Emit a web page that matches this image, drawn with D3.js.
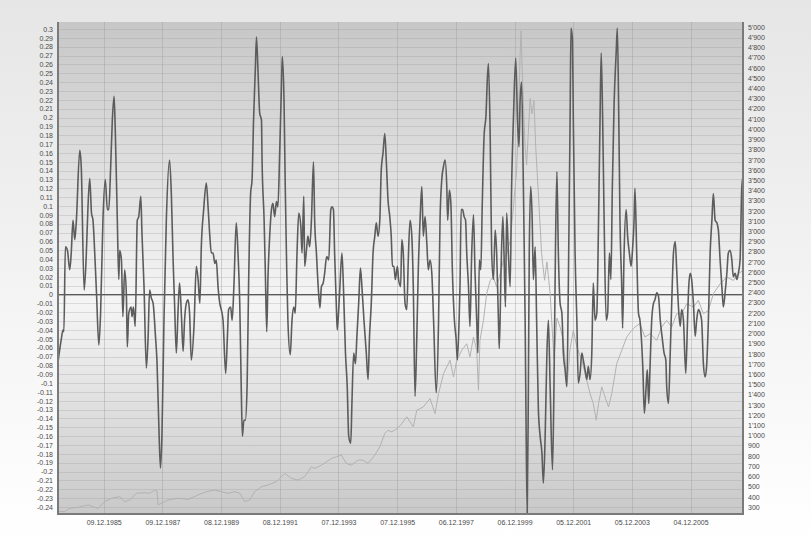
<!DOCTYPE html>
<html>
<head>
<meta charset="utf-8">
<script src="https://cdn.jsdelivr.net/npm/d3@7"></script>
<style>
  body { margin: 0; background: #fff; }
  svg { display: block; font-family: "Liberation Sans", Arial, sans-serif; }
</style>
</head>
<body>
<svg id="chart" width="811" height="542"></svg>
<script>
// Oscillator (dark line, left axis) - decimal years and values
const oscYears = [
  1984.38, 1984.49, 1984.55, 1984.58, 1984.63, 1984.70, 1984.78, 1984.83, 1984.89, 1984.95,
  1985.00, 1985.12, 1985.17, 1985.27, 1985.34, 1985.40, 1985.46, 1985.52, 1985.57, 1985.63,
  1985.69, 1985.77, 1985.83, 1985.91, 1985.99, 1986.06, 1986.11, 1986.17, 1986.23, 1986.29,
  1986.33, 1986.40, 1986.45, 1986.48, 1986.54, 1986.59, 1986.65, 1986.71, 1986.74, 1986.79,
  1986.87, 1986.90, 1986.95, 1987.01, 1987.08, 1987.13, 1987.20, 1987.24, 1987.31, 1987.39,
  1987.45, 1987.50, 1987.56, 1987.62, 1987.70, 1987.75, 1987.81, 1987.87, 1987.92, 1987.99,
  1988.07, 1988.18, 1988.24, 1988.30, 1988.35, 1988.41, 1988.47, 1988.52, 1988.58, 1988.64,
  1988.69, 1988.75, 1988.81, 1988.86, 1988.92, 1989.01, 1989.09, 1989.15, 1989.21, 1989.26,
  1989.34, 1989.43, 1989.49, 1989.55, 1989.60, 1989.66, 1989.72, 1989.77, 1989.83, 1989.89,
  1989.94, 1990.00, 1990.09, 1990.15, 1990.19, 1990.26, 1990.31, 1990.37, 1990.45, 1990.51,
  1990.57, 1990.62, 1990.66, 1990.71, 1990.76, 1990.82, 1990.87, 1990.94, 1990.99, 1991.04,
  1991.10, 1991.14, 1991.19, 1991.25, 1991.31, 1991.33, 1991.40, 1991.44, 1991.49, 1991.53,
  1991.59, 1991.65, 1991.70, 1991.76, 1991.82, 1991.87, 1991.93, 1991.99, 1992.02, 1992.08,
  1992.12, 1992.17, 1992.21, 1992.29, 1992.35, 1992.41, 1992.46, 1992.52, 1992.58, 1992.65,
  1992.69, 1992.75, 1992.78, 1992.84, 1992.89, 1992.95, 1993.01, 1993.08, 1993.12, 1993.18,
  1993.24, 1993.30, 1993.35, 1993.41, 1993.46, 1993.53, 1993.60, 1993.67, 1993.71, 1993.76,
  1993.80, 1993.86, 1993.89, 1993.94, 1993.98, 1994.05, 1994.10, 1994.17, 1994.23, 1994.28,
  1994.35, 1994.39, 1994.45, 1994.51, 1994.56, 1994.62, 1994.68, 1994.73, 1994.80, 1994.88,
  1994.94, 1994.99, 1995.05, 1995.11, 1995.17, 1995.22, 1995.28, 1995.34, 1995.39, 1995.45,
  1995.51, 1995.56, 1995.62, 1995.68, 1995.73, 1995.77, 1995.82, 1995.87, 1995.94, 1995.98,
  1996.05, 1996.09, 1996.14, 1996.20, 1996.26, 1996.31, 1996.37, 1996.43, 1996.48, 1996.54,
  1996.60, 1996.65, 1996.71, 1996.77, 1996.82, 1996.88, 1996.94, 1996.99, 1997.05, 1997.11,
  1997.17, 1997.26, 1997.34, 1997.39, 1997.45, 1997.51, 1997.56, 1997.62, 1997.65, 1997.71,
  1997.76, 1997.81, 1997.88, 1997.94, 1997.98, 1998.04, 1998.07, 1998.11, 1998.16, 1998.21,
  1998.26, 1998.30, 1998.36, 1998.41, 1998.47, 1998.53, 1998.58, 1998.64, 1998.68, 1998.73,
  1998.78, 1998.83, 1998.89, 1998.96, 1999.00, 1999.04, 1999.10, 1999.15, 1999.21, 1999.27,
  1999.32, 1999.38, 1999.41, 1999.47, 1999.53, 1999.57, 1999.62, 1999.66, 1999.72, 1999.78,
  1999.83, 1999.89, 1999.97, 2000.03, 2000.08, 2000.12, 2000.17, 2000.23, 2000.29, 2000.32,
  2000.36, 2000.40, 2000.43, 2000.48, 2000.53, 2000.57, 2000.63, 2000.68, 2000.74, 2000.80,
  2000.86, 2000.91, 2000.97, 2001.03, 2001.08, 2001.14, 2001.22, 2001.27, 2001.32, 2001.37,
  2001.42, 2001.48, 2001.54, 2001.59, 2001.65, 2001.71, 2001.76, 2001.82, 2001.85, 2001.90,
  2001.93, 2001.99, 2002.05, 2002.10, 2002.16, 2002.22, 2002.27, 2002.33, 2002.39, 2002.44,
  2002.50, 2002.56, 2002.61, 2002.67, 2002.73, 2002.79, 2002.84, 2002.88, 2002.93, 2002.98,
  2003.05, 2003.10, 2003.16, 2003.21, 2003.26, 2003.32, 2003.39, 2003.43, 2003.48, 2003.52,
  2003.58, 2003.61, 2003.66, 2003.73, 2003.78, 2003.84, 2003.90, 2003.94, 2004.00, 2004.03,
  2004.09, 2004.15, 2004.20, 2004.30, 2004.35, 2004.41, 2004.45, 2004.50, 2004.54, 2004.60,
  2004.66, 2004.71, 2004.77, 2004.83, 2004.89, 2004.95, 2005.02, 2005.08, 2005.11, 2005.17,
  2005.23, 2005.28, 2005.34, 2005.40, 2005.45, 2005.51, 2005.57, 2005.62, 2005.68, 2005.76,
  2005.82, 2005.86, 2005.91, 2005.96, 2006.02, 2006.08, 2006.13, 2006.19, 2006.25, 2006.30,
  2006.36, 2006.42, 2006.47, 2006.53, 2006.59, 2006.65, 2006.70, 2006.76, 2006.82, 2006.87,
  2006.93, 2006.99, 2007.04, 2007.10, 2007.16, 2007.21, 2007.27, 2007.33, 2007.38, 2007.44,
  2007.50, 2007.55, 2007.61, 2007.67, 2007.71
];
const oscValues = [
  -0.076, -0.051, -0.040, -0.042, 0.054, 0.050, 0.028, 0.047, 0.084, 0.062,
  0.081, 0.163, 0.145, 0.005, 0.043, 0.099, 0.131, 0.092, 0.084, 0.047,
  0.002, -0.057, -0.021, 0.084, 0.130, 0.096, 0.096, 0.141, 0.197, 0.224,
  0.186, 0.084, 0.017, 0.050, 0.039, -0.025, 0.028, -0.002, -0.059, -0.021,
  -0.014, -0.025, -0.014, -0.036, 0.084, 0.088, 0.111, 0.069, 0.009, -0.083,
  -0.047, 0.005, -0.004, -0.010, -0.047, -0.074, -0.142, -0.196, -0.160, -0.029,
  0.084, 0.152, 0.114, 0.039, -0.010, -0.066, -0.017, 0.013, -0.021, -0.064,
  -0.029, -0.010, -0.006, -0.021, -0.074, -0.036, 0.032, 0.017, -0.010, 0.054,
  0.096, 0.126, 0.099, 0.066, 0.047, 0.047, 0.035, 0.039, 0.009, -0.010,
  -0.017, -0.029, -0.089, -0.047, -0.017, -0.014, -0.029, 0.009, 0.081, 0.047,
  -0.010, -0.104, -0.160, -0.142, -0.142, -0.104, 0.009, 0.114, 0.130, 0.197,
  0.254, 0.291, 0.254, 0.205, 0.197, 0.152, 0.084, 0.028, -0.042, 0.017,
  0.066, 0.096, 0.103, 0.088, 0.105, 0.099, 0.160, 0.235, 0.269, 0.216,
  0.122, 0.028, -0.029, -0.068, -0.029, -0.014, -0.021, 0.047, 0.092, 0.077,
  0.047, 0.111, 0.032, 0.050, 0.066, 0.054, 0.084, 0.150, 0.084, 0.047,
  0.009, -0.015, 0.009, 0.013, 0.024, 0.043, 0.039, 0.096, 0.099, 0.096,
  0.047, -0.014, -0.040, -0.017, 0.009, 0.047, 0.009, -0.066, -0.104, -0.160,
  -0.168, -0.123, -0.066, -0.078, -0.047, -0.010, 0.030, 0.009, -0.029, -0.066,
  -0.096, -0.047, -0.010, 0.047, 0.066, 0.081, 0.066, 0.084, 0.141, 0.160,
  0.182, 0.152, 0.107, 0.088, 0.066, 0.032, 0.032, 0.017, 0.032, 0.017,
  0.009, 0.062, 0.047, -0.010, -0.017, 0.039, 0.084, 0.066, 0.009, -0.115,
  -0.047, 0.028, 0.084, 0.122, 0.066, 0.088, 0.058, 0.028, 0.039, 0.024,
  -0.029, -0.111, -0.029, 0.084, 0.130, 0.145, 0.152, 0.122, 0.084, 0.118,
  0.103, 0.028, -0.029, -0.051, -0.074, -0.029, 0.009, 0.096, 0.096, 0.088,
  0.084, 0.047, 0.009, -0.036, 0.047, 0.090, 0.028, -0.029, -0.066, 0.039,
  0.028, 0.103, 0.178, 0.205, 0.242, 0.261, 0.178, 0.047, 0.017, 0.073,
  0.047, -0.029, -0.061, 0.028, 0.088, 0.047, -0.014, 0.092, 0.047, 0.009,
  0.122, 0.197, 0.267, 0.197, 0.167, 0.220, 0.240, 0.122, -0.029, -0.142,
  -0.247, -0.104, 0.047, 0.122, 0.084, 0.017, 0.054, -0.029, -0.130, -0.160,
  -0.179, -0.213, -0.160, -0.066, -0.029, -0.104, -0.198, -0.104, 0.047, 0.139,
  0.047, -0.010, -0.021, -0.066, -0.085, -0.104, 0.009, 0.197, 0.301, 0.288,
  0.197, 0.047, -0.029, -0.100, -0.089, -0.066, -0.074, -0.085, -0.096, -0.081,
  -0.096, -0.066, 0.013, -0.029, -0.021, 0.084, 0.197, 0.273, 0.197, 0.084,
  -0.029, -0.021, 0.047, 0.017, 0.122, 0.216, 0.273, 0.301, 0.197, 0.084,
  0.009, -0.038, 0.047, 0.096, 0.066, 0.047, 0.032, 0.047, 0.084, 0.120,
  0.047, -0.021, -0.029, -0.085, -0.134, -0.104, -0.085, -0.123, -0.085, -0.029,
  -0.010, -0.006, 0.002, -0.002, -0.029, -0.047, -0.066, -0.074, -0.104, -0.123,
  -0.066, -0.010, 0.047, 0.060, 0.028, -0.014, -0.036, -0.017, -0.029, -0.089,
  -0.029, 0.009, 0.024, 0.017, -0.010, -0.047, -0.029, -0.017, -0.021, -0.029,
  -0.078, -0.093, -0.081, -0.029, 0.047, 0.084, 0.114, 0.084, 0.081, 0.073,
  0.039, 0.009, -0.014, 0.002, 0.024, 0.047, 0.050, 0.039, 0.020, 0.024,
  0.017, 0.024, 0.039, 0.122, 0.133
];

// Index level (light line, right axis)
const idxYears = [
  1984.38, 1984.61, 1984.78, 1985.06, 1985.40, 1985.63, 1985.74, 1985.97, 1986.20, 1986.48,
  1986.65, 1986.82, 1987.05, 1987.33, 1987.50, 1987.67, 1987.75, 1987.79, 1987.90, 1988.13,
  1988.47, 1988.81, 1989.15, 1989.43, 1989.72, 1989.94, 1990.17, 1990.40, 1990.57, 1990.74,
  1990.91, 1991.08, 1991.31, 1991.53, 1991.82, 1991.93, 1992.10, 1992.33, 1992.55, 1992.78,
  1993.01, 1993.12, 1993.35, 1993.69, 1993.86, 1994.03, 1994.20, 1994.37, 1994.60, 1994.77,
  1994.94, 1995.17, 1995.34, 1995.51, 1995.62, 1995.73, 1995.85, 1996.05, 1996.26, 1996.48,
  1996.60, 1996.82, 1997.05, 1997.22, 1997.34, 1997.51, 1997.73, 1997.85, 1997.96, 1998.13,
  1998.30, 1998.41, 1998.53, 1998.64, 1998.70, 1998.75, 1998.87, 1998.98, 1999.10, 1999.21,
  1999.32, 1999.44, 1999.55, 1999.66, 1999.78, 1999.89, 2000.00, 2000.06, 2000.12, 2000.15,
  2000.21, 2000.29, 2000.34, 2000.40, 2000.46, 2000.52, 2000.59, 2000.65, 2000.74, 2000.85,
  2000.95, 2001.03, 2001.14, 2001.27, 2001.37, 2001.48, 2001.59, 2001.72, 2001.82, 2001.93,
  2002.05, 2002.22, 2002.33, 2002.50, 2002.61, 2002.71, 2002.79, 2002.90, 2003.01, 2003.13,
  2003.24, 2003.41, 2003.58, 2003.75, 2003.92, 2004.03, 2004.20, 2004.37, 2004.55, 2004.77,
  2004.94, 2005.11, 2005.28, 2005.45, 2005.62, 2005.79, 2006.02, 2006.19, 2006.36, 2006.53,
  2006.70, 2006.93, 2007.16, 2007.38, 2007.55, 2007.71
];
const idxValues = [
  255, 255, 287, 297, 320, 297, 287, 352, 385, 401,
  352, 369, 434, 440, 434, 466, 460, 320, 336, 369,
  385, 375, 417, 450, 466, 450, 434, 450, 434, 352,
  369, 450, 499, 515, 548, 580, 629, 580, 564, 596,
  694, 678, 710, 775, 792, 808, 727, 710, 759, 759,
  727, 808, 890, 1020, 1052, 1036, 1052, 1101, 1183, 1085,
  1248, 1280, 1362, 1215, 1411, 1606, 1737, 1574, 1737, 1834,
  1899, 1769, 1964, 1834, 1443, 1932, 2127, 2388, 2518, 2551,
  2453, 2583, 2714, 2779, 2909, 3235, 3593, 4081, 4733, 4961,
  4407, 3820, 3650, 3980, 4300, 4150, 4280, 3820, 3365, 2780,
  2520, 2700, 2388, 1750, 2150, 2062, 1932, 1500, 1850, 2030,
  1867, 1737, 1606, 1411, 1313, 1150, 1313, 1476, 1378, 1280,
  1411, 1704, 1834, 1964, 2030, 2062, 2095, 1964, 1997, 1932,
  2062, 2127, 2062, 2192, 2192, 2290, 2258, 2323, 2192, 2225,
  2388, 2486, 2551, 2518, 2583, 2616
];

// Tick labels
const dateLabels = ["09.12.1985", "09.12.1987", "08.12.1989", "08.12.1991", "07.12.1993",
  "07.12.1995", "06.12.1997", "06.12.1999", "05.12.2001", "05.12.2003", "04.12.2005"];
const leftTicks = d3.range(-24, 31).map((i) => i / 100);
const rightTicks = d3.range(300, 5001, 100);

// decimal year -> Date
function toDate(y) {
  const yr = Math.floor(y);
  const a = new Date(yr, 0, 1), b = new Date(yr + 1, 0, 1);
  return new Date(+a + (y - yr) * (b - a));
}

const osc = oscYears.map((y, i) => ({ date: toDate(y), value: oscValues[i] }));
const idx = idxYears.map((y, i) => ({ date: toDate(y), value: idxValues[i] }));
const parseLabel = d3.timeParse("%d.%m.%Y");
const tickDates = dateLabels.map(parseLabel);

const svg = d3.select("#chart");
const pLeft = 58, pRight = 743, pTop = 22, pBottom = 514;

// Gradients
const defs = svg.append("defs");
const pageGrad = defs.append("linearGradient").attr("id", "pageGrad")
  .attr("x1", 0).attr("y1", 0).attr("x2", 0).attr("y2", 1);
pageGrad.append("stop").attr("offset", "0%").attr("stop-color", "#e6e6e6");
pageGrad.append("stop").attr("offset", "100%").attr("stop-color", "#ffffff");

const plotGrad = defs.append("linearGradient").attr("id", "plotGrad")
  .attr("x1", 0).attr("y1", 0).attr("x2", 0).attr("y2", 1);
plotGrad.append("stop").attr("offset", "0%").attr("stop-color", "#c7c7c7");
plotGrad.append("stop").attr("offset", "57%").attr("stop-color", "#f5f5f5");
plotGrad.append("stop").attr("offset", "100%").attr("stop-color", "#c9c9c9");

defs.append("clipPath").attr("id", "clip")
  .append("rect").attr("x", pLeft).attr("y", pTop)
  .attr("width", pRight - pLeft).attr("height", pBottom - pTop);

svg.append("rect").attr("width", 811).attr("height", 542).attr("fill", "url(#pageGrad)");
svg.append("rect").attr("x", pLeft).attr("y", pTop)
  .attr("width", pRight - pLeft).attr("height", pBottom - pTop)
  .attr("fill", "url(#plotGrad)");

// Scales
const x = d3.scaleTime()
  .domain(d3.extent(osc, (d) => d.date))
  .range([pLeft, pRight]);
const yLeft = d3.scaleLinear().domain([-0.24, 0.3]).range([507, 29]);
const yRight = d3.scaleLinear().domain([300, 5000]).range([507, 27]);

// Grid
const grid = svg.append("g").attr("clip-path", "url(#clip)");
grid.selectAll(".hg").data(leftTicks).join("line")
  .attr("x1", pLeft).attr("x2", pRight)
  .attr("y1", (d) => Math.round(yLeft(d)) + 0.5)
  .attr("y2", (d) => Math.round(yLeft(d)) + 0.5)
  .attr("stroke", "#9a9a9a").attr("stroke-opacity", 0.3);
grid.selectAll(".vg").data(tickDates).join("line")
  .attr("x1", (d) => Math.round(x(d)) + 0.5).attr("x2", (d) => Math.round(x(d)) + 0.5)
  .attr("y1", pTop).attr("y2", pBottom)
  .attr("stroke", "#9a9a9a").attr("stroke-opacity", 0.4);

// Zero line
svg.append("line")
  .attr("x1", pLeft).attr("x2", pRight)
  .attr("y1", yLeft(0)).attr("y2", yLeft(0))
  .attr("stroke", "#5a5a5a").attr("stroke-width", 1.2);

// Lines
const plot = svg.append("g").attr("clip-path", "url(#clip)");
plot.append("path").datum(idx)
  .attr("fill", "none").attr("stroke", "#b2b2b2").attr("stroke-width", 1)
  .attr("d", d3.line().x((d) => x(d.date)).y((d) => yRight(d.value)));
plot.append("path").datum(osc)
  .attr("fill", "none").attr("stroke", "#5c5c5c").attr("stroke-width", 1.6)
  .attr("stroke-linejoin", "round")
  .attr("d", d3.line().curve(d3.curveMonotoneX).x((d) => x(d.date)).y((d) => yLeft(d.value)));

// Frame
svg.append("path")
  .attr("d", `M${pLeft},${pTop}V${pBottom}H${pRight}V${pTop}`)
  .attr("fill", "none").attr("stroke", "#7a7a7a").attr("stroke-width", 2);

// Axes
const leftFmt = (d) => String(+d.toFixed(2));
const rightFmt = d3.formatLocale({ decimal: ".", thousands: "'", grouping: [3], currency: ["", ""] }).format(",");

const axL = svg.append("g").attr("transform", `translate(${pLeft},0)`)
  .call(d3.axisLeft(yLeft).tickValues(leftTicks).tickSize(0).tickPadding(5).tickFormat(leftFmt));
const axR = svg.append("g").attr("transform", `translate(${pRight},0)`)
  .call(d3.axisRight(yRight).tickValues(rightTicks).tickSize(0).tickPadding(5).tickFormat(rightFmt));
const axB = svg.append("g").attr("transform", `translate(0,${pBottom})`)
  .call(d3.axisBottom(x).tickValues(tickDates).tickSize(0).tickPadding(6)
    .tickFormat(d3.timeFormat("%d.%m.%Y")));

[axL, axR, axB].forEach((g) => {
  g.select(".domain").remove();
  g.selectAll("text").attr("fill", "#4a4a4a").style("font-size", "7px")
    .style("font-family", '"Liberation Sans", Arial, sans-serif');
});
</script>
</body>
</html>
